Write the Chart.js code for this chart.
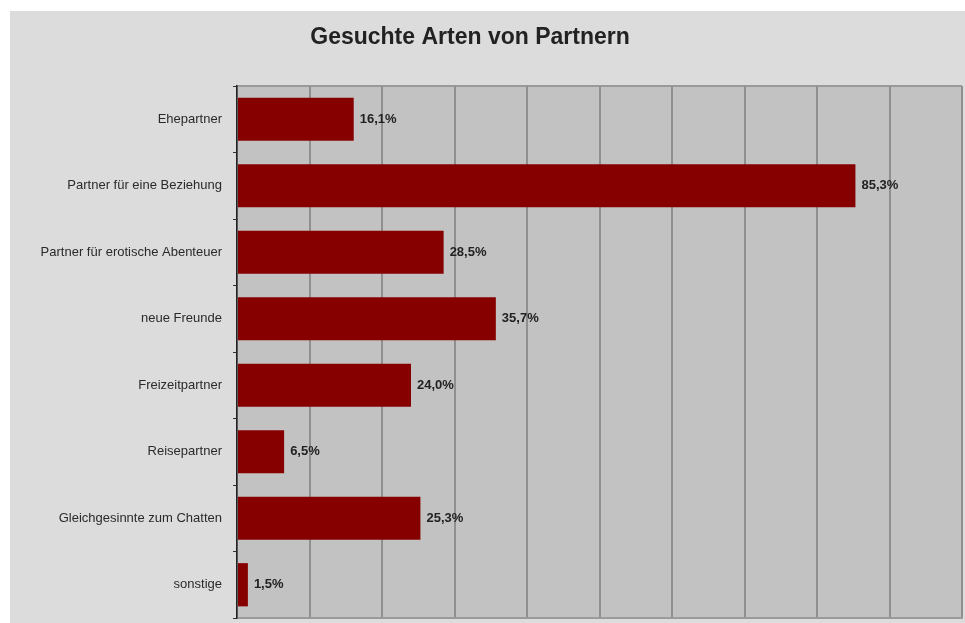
<!DOCTYPE html>
<html lang="de">
<head>
<meta charset="utf-8">
<title>Gesuchte Arten von Partnern</title>
<script src="https://cdn.jsdelivr.net/npm/chart.js@4.4.1/dist/chart.umd.min.js"></script>
<style>
    html, body { margin: 0; padding: 0; background: #ffffff; }
    #wrap { position: relative; width: 965px; height: 623px; }
</style>
</head>
<body>
<div id="wrap"><canvas id="partnerChart" width="965" height="623"></canvas></div>
<script>
const chartTitle = 'Gesuchte Arten von Partnern';
const categories = [
    'Ehepartner',
    'Partner für eine Beziehung',
    'Partner für erotische Abenteuer',
    'neue Freunde',
    'Freizeitpartner',
    'Reisepartner',
    'Gleichgesinnte zum Chatten',
    'sonstige'
];
const shares = [16.1, 85.3, 28.5, 35.7, 24.0, 6.5, 25.3, 1.5];
const axisMin = 0;
const axisMax = 100;
const axisStep = 10;

const FONT = '"Liberation Sans", Arial, Helvetica, sans-serif';

function formatShare(v) {
    return v.toFixed(1).replace('.', ',') + '%';
}

// grey panel behind everything, darker plot area with a thin frame
const backdrop = {
    id: 'backdrop',
    beforeDraw(chart) {
        const { ctx, chartArea: a } = chart;
        ctx.save();
        ctx.fillStyle = '#ffffff';
        ctx.fillRect(0, 0, chart.width, chart.height);
        ctx.fillStyle = '#dcdcdc';
        ctx.fillRect(10, 11, chart.width - 10, chart.height - 11);
        ctx.fillStyle = '#c2c2c2';
        ctx.fillRect(a.left, a.top, a.right - a.left, a.bottom - a.top);
        ctx.strokeStyle = '#9a9a9a';
        ctx.lineWidth = 2;
        ctx.beginPath();
        ctx.moveTo(a.left, a.top);
        ctx.lineTo(a.right, a.top);
        ctx.stroke();
        ctx.restore();
    },
    afterDraw(chart) {
        const { ctx } = chart;
        ctx.save();
        ctx.fillStyle = '#222222';
        ctx.font = 'bold 23px ' + FONT;
        ctx.textAlign = 'center';
        ctx.textBaseline = 'alphabetic';
        ctx.fillText(chartTitle, 470, 44);
        ctx.restore();
    }
};

// percentage text at the end of each bar
const valueLabels = {
    id: 'valueLabels',
    afterDatasetsDraw(chart) {
        const { ctx } = chart;
        const meta = chart.getDatasetMeta(0);
        ctx.save();
        ctx.fillStyle = '#222222';
        ctx.font = 'bold 13px ' + FONT;
        ctx.textAlign = 'left';
        ctx.textBaseline = 'middle';
        meta.data.forEach((bar, i) => {
            ctx.fillText(formatShare(shares[i]), bar.x + 6, bar.y);
        });
        ctx.restore();
    }
};

new Chart(document.getElementById('partnerChart'), {
    type: 'bar',
    data: {
        labels: categories,
        datasets: [{
            data: shares,
            backgroundColor: '#860000',
            borderWidth: 0,
            barPercentage: 0.65,
            categoryPercentage: 1
        }]
    },
    options: {
        indexAxis: 'y',
        responsive: false,
        animation: false,
        layout: { padding: { top: 86, right: 3, left: 0, bottom: 0 } },
        plugins: {
            legend: { display: false },
            title: { display: false },
            tooltip: { enabled: false }
        },
        scales: {
            x: {
                min: axisMin,
                max: axisMax,
                ticks: { stepSize: axisStep, display: false },
                grid: { color: '#8f8f8f', lineWidth: 2, drawTicks: false },
                border: { display: true, color: '#9a9a9a', width: 2 },
                afterFit(scale) { scale.height = 5; }
            },
            y: {
                ticks: {
                    color: '#2a2a2a',
                    font: { family: FONT, size: 13 },
                    padding: 11
                },
                grid: {
                    drawOnChartArea: false,
                    drawTicks: true,
                    tickLength: 4,
                    color: '#333333',
                    lineWidth: 1
                },
                border: { display: true, color: '#222222', width: 1.5 },
                afterFit(scale) {
                    // labels sit centred in their rows, no extra room needed above/below
                    scale.width = 237;
                    scale.paddingTop = 0;
                    scale.paddingBottom = 0;
                }
            }
        }
    },
    plugins: [backdrop, valueLabels]
});
</script>
</body>
</html>
